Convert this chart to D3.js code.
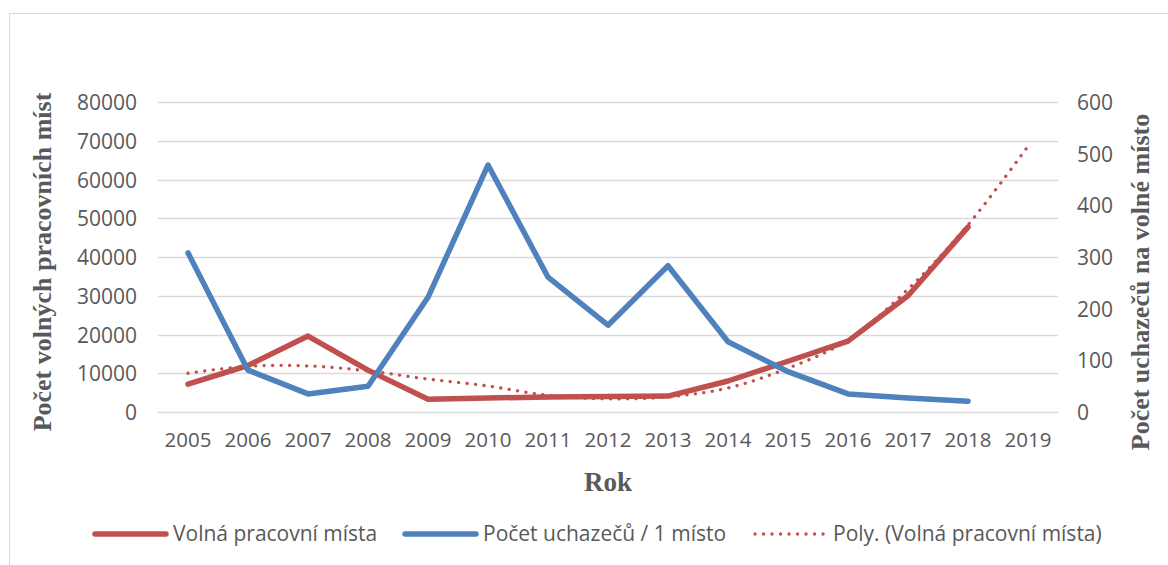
<!DOCTYPE html>
<html>
<head>
<meta charset="utf-8">
<script src="https://cdn.jsdelivr.net/npm/d3@7"></script>
<style>
  html, body { margin: 0; padding: 0; background: #fff; }
  svg { display: block; }
</style>
</head>
<body>
<svg id="chart" width="1168" height="565"></svg>
<script>
const years = ["2005","2006","2007","2008","2009","2010","2011","2012","2013","2014","2015","2016","2017","2018","2019"];
const vacancyYears = ["2005","2006","2007","2008","2009","2010","2011","2012","2013","2014","2015","2016","2017","2018"];
const vacancies = [7200, 12000, 19600, 10800, 3300, 3600, 3900, 4000, 4100, 8000, 13100, 18300, 30000, 47700];
const applicantsPerJob = [308, 81, 35, 50, 222, 478, 261, 168, 283, 136, 78, 35, 27, 21];
const trendYears = years;
const trendValues = [10000, 11800, 11900, 10600, 8500, 6700, 4300, 3400, 3900, 6200, 11300, 18600, 31700, 48300, 68600];
const leftTicks = [0, 10000, 20000, 30000, 40000, 50000, 60000, 70000, 80000];
const rightTicks = [0, 100, 200, 300, 400, 500, 600];
const seriesNames = ["Volná pracovní místa", "Počet uchazečů / 1 místo", "Poly. (Volná pracovní místa)"];
const leftTitle = "Počet volných pracovních míst";
const rightTitle = "Počet uchazečů na volné místo";
const xTitle = "Rok";

const RED = "#C0504D", BLUE = "#4F81BD", GRID = "#D9D9D9", TXT = "#595959";
const svg = d3.select("#chart");

// outer border
svg.append("rect").attr("x", 9.5).attr("y", 13.5).attr("width", 1170).attr("height", 570)
  .attr("fill", "none").attr("stroke", "#D9D9D9").attr("stroke-width", 1);

const plot = { left: 158, right: 1058, top: 102, bottom: 412 };
const x = d3.scaleBand().domain(years).range([plot.left, plot.right]);
const xc = d => x(d) + x.bandwidth() / 2;
const yL = d3.scaleLinear().domain([0, 80000]).range([plot.bottom, plot.top]);
const yR = d3.scaleLinear().domain([0, 600]).range([plot.bottom, plot.top]);

// gridlines
svg.append("g").selectAll("line").data(leftTicks).join("line")
  .attr("x1", plot.left).attr("x2", plot.right)
  .attr("y1", d => Math.round(yL(d)) + 0.5).attr("y2", d => Math.round(yL(d)) + 0.5)
  .attr("stroke", GRID).attr("stroke-width", 1.5);

const font = "'Open Sans', sans-serif";
// left axis
const axL = svg.append("g").attr("transform", `translate(${plot.left},0)`)
  .call(d3.axisLeft(yL).tickValues(leftTicks).tickFormat(d3.format("d")).tickSize(0).tickPadding(21));
axL.select(".domain").remove();
axL.selectAll("text").attr("font-family", font).attr("font-size", 21).attr("fill", TXT).attr("dy", "0.36em");

// right axis
const axR = svg.append("g").attr("transform", `translate(${plot.right},0)`)
  .call(d3.axisRight(yR).tickValues(rightTicks).tickFormat(d3.format("d")).tickSize(0).tickPadding(19));
axR.select(".domain").remove();
axR.selectAll("text").attr("font-family", font).attr("font-size", 21).attr("fill", TXT).attr("dy", "0.36em");

// bottom axis
const axB = svg.append("g").attr("transform", `translate(0,${plot.bottom})`)
  .call(d3.axisBottom(x).tickSize(0).tickPadding(20));
axB.select(".domain").remove();
axB.selectAll("text").attr("font-family", font).attr("font-size", 20.5).attr("fill", TXT);

// axis titles
const serif = "'Liberation Serif', 'Times New Roman', serif";
svg.append("text").attr("transform", "translate(51,262) rotate(-90)")
  .attr("text-anchor", "middle").attr("font-family", serif).attr("font-weight", "bold")
  .attr("font-size", 26).attr("fill", TXT).text(leftTitle);
svg.append("text").attr("transform", "translate(1149,282) rotate(-90)")
  .attr("text-anchor", "middle").attr("font-family", serif).attr("font-weight", "bold")
  .attr("font-size", 26).attr("fill", TXT).text(rightTitle);
svg.append("text").attr("x", 608).attr("y", 491)
  .attr("text-anchor", "middle").attr("font-family", serif).attr("font-weight", "bold")
  .attr("font-size", 27).attr("fill", TXT).text(xTitle);

// lines
const lineL = d3.line().x(d => xc(d[0])).y(d => yL(d[1]));
const lineR = d3.line().x(d => xc(d[0])).y(d => yR(d[1]));
const lineT = d3.line().x(d => xc(d[0])).y(d => yL(d[1])).curve(d3.curveCatmullRom.alpha(0.5));

svg.append("path").datum(vacancyYears.map((y, i) => [y, vacancies[i]]))
  .attr("d", lineL).attr("fill", "none").attr("stroke", RED).attr("stroke-width", 5.5)
  .attr("stroke-linejoin", "round").attr("stroke-linecap", "round");

svg.append("path").datum(trendYears.map((y, i) => [y, trendValues[i]]))
  .attr("d", lineT).attr("fill", "none").attr("stroke", RED).attr("stroke-width", 3.3)
  .attr("stroke-dasharray", "0.1 8.4").attr("stroke-linecap", "round");

svg.append("path").datum(vacancyYears.map((y, i) => [y, applicantsPerJob[i]]))
  .attr("d", lineR).attr("fill", "none").attr("stroke", BLUE).attr("stroke-width", 5.5)
  .attr("stroke-linejoin", "round").attr("stroke-linecap", "round");

// legend
const legend = [
  { name: seriesNames[0], color: RED, dash: null, w: 5.5, x: 95 },
  { name: seriesNames[1], color: BLUE, dash: null, w: 5.5, x: 405 },
  { name: seriesNames[2], color: RED, dash: "0.1 8.4", w: 3.3, x: 755 }
];
const lg = svg.append("g");
legend.forEach(l => {
  lg.append("line").attr("x1", l.x).attr("x2", l.x + 71).attr("y1", 534).attr("y2", 534)
    .attr("stroke", l.color).attr("stroke-width", l.w).attr("stroke-linecap", "round")
    .attr("stroke-dasharray", l.dash);
  lg.append("text").attr("x", l.x + 78).attr("y", 541).attr("font-family", font)
    .attr("font-size", 21).attr("fill", TXT).text(l.name);
});
</script>
</body>
</html>
